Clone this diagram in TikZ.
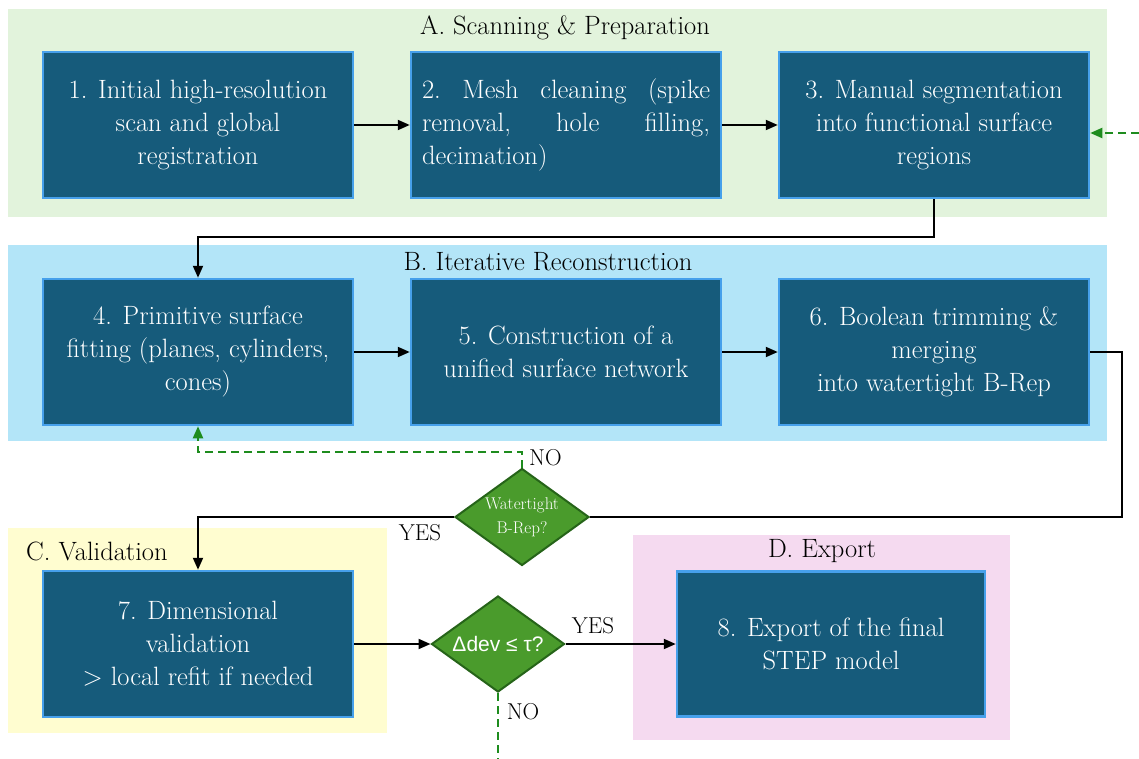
\documentclass[tikz,border=0pt]{standalone}
\usepackage{fontspec}
\newfontfamily\dsans{Liberation Sans}
\usetikzlibrary{shapes.geometric,arrows.meta}
\definecolor{boxfill}{RGB}{22,91,123}
\definecolor{boxline}{RGB}{70,160,235}
\definecolor{panA}{RGB}{226,243,220}
\definecolor{panB}{RGB}{179,229,248}
\definecolor{panC}{RGB}{255,253,208}
\definecolor{panD}{RGB}{245,218,240}
\definecolor{dfill}{RGB}{74,155,44}
\definecolor{dline}{RGB}{38,100,25}
\definecolor{gdash}{RGB}{30,140,30}
\begin{document}
\begin{tikzpicture}[x=1pt,y=-1pt,
 stepbox/.style={draw=boxline, line width=2.5pt, fill=boxfill, text=white, minimum width=310pt, minimum height=146pt, inner sep=0pt, align=center, font=\fontsize{26.5}{33}\selectfont},
 ptitle/.style={font=\fontsize{26.5}{30}\selectfont, inner sep=0pt},
 decision/.style={diamond, draw=dline, line width=2pt, fill=dfill, minimum width=134pt, minimum height=97pt, inner sep=0pt, aspect=1.4},
 dtext/.style={text=white, align=center, inner sep=0pt},
 arr/.style={line width=2pt, -{Triangle[length=12pt,width=10pt]}},
 plainline/.style={line width=2pt},
 garr/.style={gdash, line width=2pt, dash pattern=on 8pt off 5pt, -{Triangle[length=12pt,width=10pt]}},
 gline/.style={gdash, line width=2pt, dash pattern=on 8pt off 5pt},
 lab/.style={font=\fontsize{23}{24}\selectfont, inner sep=0pt}
]
\useasboundingbox (0,0) rectangle (1139,759);
\fill[white] (0,0) rectangle (1139,759);
% panels
\fill[panA] (8,9) rectangle (1107,217);
\fill[panB] (8,245) rectangle (1107,441);
\fill[panC] (8,528) rectangle (387,733);
\fill[panD] (633,535) rectangle (1010,740);
\node[ptitle] (tA) at (565,28) {A. Scanning \& Preparation};
\node[ptitle] (tB) at (548,262) {B. Iterative Reconstruction};
\node[ptitle, anchor=west] (tC) at (26,551) {C. Validation};
\node[ptitle] (tD) at (822,551) {D. Export};
% boxes
\node[stepbox] (b1) at (198,125) {1. Initial high-resolution\\scan and global\\registration};
\node[stepbox, text width=288pt, align=left] (b2) at (566,125) {2.\hfill Mesh\hfill cleaning\hfill (spike\\removal,\hfill hole\hfill filling,\\decimation)};
\node[stepbox] (b3) at (934,125) {3. Manual segmentation\\into functional surface\\regions};
\node[stepbox] (b4) at (198,352) {4. Primitive surface\\fitting (planes, cylinders,\\cones)};
\node[stepbox] (b5) at (566,352) {5. Construction of a\\unified surface network};
\node[stepbox] (b6) at (934,352) {6. Boolean trimming \&\\merging\\into watertight B-Rep};
\node[stepbox] (b7) at (198,644) {7. Dimensional\\validation\\> local refit if needed};
\node[stepbox, minimum width=308pt, minimum height=145pt] (b8) at (831,644) {8. Export of the final\\STEP model};
% decisions
\node[decision, label={[dtext, font=\fontsize{17}{24}\selectfont]center:Watertight\\B-Rep?}] (d1) at (522,517) {};
\node[decision, minimum width=133pt, minimum height=96pt, label={[dtext, font=\dsans\fontsize{21}{24}\selectfont]center:Δdev ≤ τ?}] (d2) at (498,644) {};
% connectors
\draw[arr] (b1) -- (b2);
\draw[arr] (b2) -- (b3);
\draw[arr] (b3.south) -- ++(0,38) -| (b4.north);
\draw[arr] (b4) -- (b5);
\draw[arr] (b5) -- (b6);
\draw[plainline] (b6.east) -- ++(32,0) |- (d1.east);
\draw[arr] (d1.west) -| (b7.north);
\draw[garr] (d1.north) -- ++(0,-16) -| (b4.south);
\draw[arr] (b7.east) -- (d2.west);
\draw[arr] (d2.east) -- (b8.west);
\coordinate (gout) at (498,759);
\draw[gline] (d2.south) -- (gout);
\coordinate (gin) at (1139,133);
\draw[garr] (gin) -- (gin -| b3.east);
% labels
\node[lab, anchor=west] (no1) at (529,458) {NO};
\node[lab] (yes1) at (420,533) {YES};
\node[lab] (yes2) at (593,626) {YES};
\node[lab] (no2) at (523,712) {NO};
\end{tikzpicture}
\end{document}
